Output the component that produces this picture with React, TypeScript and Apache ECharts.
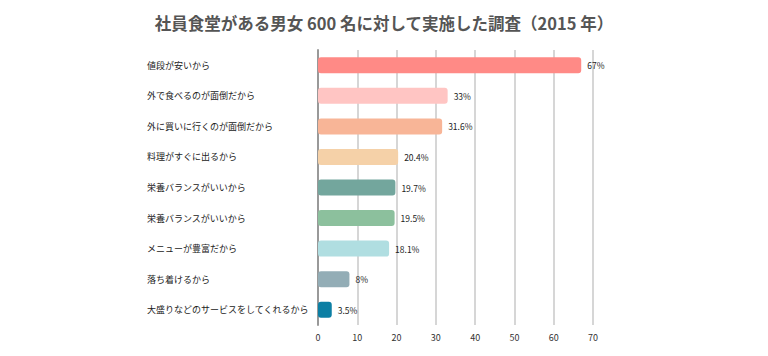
import React, { useEffect, useRef } from "react";
import * as echarts from "echarts";

const categories = [
  "値段が安いから",
  "外で食べるのが面倒だから",
  "外に買いに行くのが面倒だから",
  "料理がすぐに出るから",
  "栄養バランスがいいから",
  "栄養バランスがいいから",
  "メニューが豊富だから",
  "落ち着けるから",
  "大盛りなどのサービスをしてくれるから",
];
const values = [67, 33, 31.6, 20.4, 19.7, 19.5, 18.1, 8, 3.5];
const colors = [
  "#FF8A86",
  "#FFC5C3",
  "#F8B597",
  "#F5D1A8",
  "#73A69D",
  "#8CC09D",
  "#B0DEE1",
  "#93ADB6",
  "#0C7FA4",
];
const titleText = "社員食堂がある男女 600 名に対して実施した調査（2015 年）";

export default function App() {
  const ref = useRef<HTMLDivElement>(null);
  useEffect(() => {
    if (!ref.current) return;
    const chart = echarts.init(ref.current, null, { renderer: "svg" });
    const font = "'Noto Sans CJK JP', 'Noto Sans', sans-serif";
    chart.setOption({
      animation: false,
      textStyle: { fontFamily: font },
      title: {
        text: titleText,
        left: "center",
        top: 2,
        textStyle: { fontSize: 16.5, fontWeight: "bold", color: "#555", fontFamily: font },
      },
      grid: { left: 310, right: 167, top: 42, bottom: 23 },
      xAxis: {
        type: "value",
        min: 0,
        max: 70,
        interval: 10,
        axisLine: { show: false },
        axisTick: { show: false },
        axisLabel: { fontSize: 9, color: "#333", margin: 8 },
        splitLine: { lineStyle: { color: "#c8c8c8", width: 1.5 } },
      },
      yAxis: {
        type: "category",
        data: categories,
        inverse: true,
        axisLine: { show: true, lineStyle: { color: "#999", width: 2 } },
        axisTick: { show: false },
        axisLabel: {
          fontSize: 9,
          color: "#222",
          align: "left",
          margin: 171,
        },
      },
      series: [
        {
          type: "bar",
          data: values.map((v, i) => ({ value: v, itemStyle: { color: colors[i] } })),
          barWidth: 16,
          itemStyle: { borderRadius: 3 },
          label: {
            show: true,
            position: "right",
            distance: 6,
            fontSize: 8.5,
            color: "#222",
            formatter: (p: any) => p.value + "%",
          },
        },
      ],
    });
    return () => chart.dispose();
  }, []);
  return <div ref={ref} style={{ width: 752, height: 340 }} />;
}
